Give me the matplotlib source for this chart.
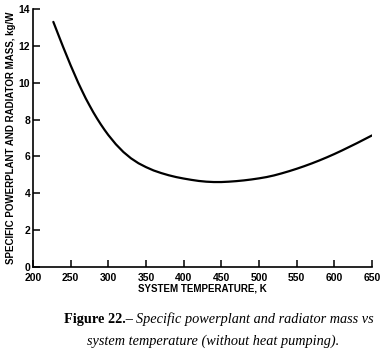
import matplotlib
matplotlib.use("Agg")
import matplotlib.pyplot as plt

temps = [227, 235, 240, 245, 250, 255, 260, 265, 270, 275, 280, 285, 290, 295, 300,
         310, 320, 330, 340, 350, 360, 370, 380, 390, 400, 410, 420, 430, 440, 450,
         460, 470, 480, 490, 500, 510, 520, 530, 540, 550, 560, 570, 580, 590, 600,
         610, 620, 630, 640, 650]
mass = [13.3, 12.46, 11.94, 11.44, 10.94, 10.47, 10.0, 9.57, 9.15, 8.77, 8.4, 8.06, 7.74, 7.44, 7.16,
        6.66, 6.24, 5.9, 5.63, 5.42, 5.24, 5.1, 4.98, 4.88, 4.8, 4.73, 4.67, 4.63, 4.61, 4.61,
        4.63, 4.66, 4.7, 4.75, 4.81, 4.88, 4.97, 5.08, 5.2, 5.33, 5.47, 5.62, 5.78, 5.95, 6.13,
        6.32, 6.52, 6.72, 6.93, 7.14]
xticks = [200, 250, 300, 350, 400, 450, 500, 550, 600, 650]
yticks = [0, 2, 4, 6, 8, 10, 12, 14]

fig = plt.figure(figsize=(3.87, 3.53), dpi=100)
ax = fig.add_axes([33/387, 1-267/353, (372-33)/387, (267-9)/353])

ax.plot(temps, mass, color="black", lw=1.6, solid_capstyle="round", solid_joinstyle="round")
ax.set_xlim(200, 650)
ax.set_ylim(0, 14)
ax.set_xticks(xticks)
ax.set_yticks(yticks)
for s in ["top", "right"]:
    ax.spines[s].set_visible(False)
for s in ["left", "bottom"]:
    ax.spines[s].set_linewidth(1.2)
ax.tick_params(direction="in", length=5, width=1.1, labelsize=7.5)
ax.tick_params(axis="x", pad=4)
ax.tick_params(axis="y", pad=2)
for lab in ax.get_xticklabels() + ax.get_yticklabels():
    lab.set_fontweight("bold")
    lab.set_family("Liberation Sans")
ax.set_xlabel("SYSTEM TEMPERATURE, K", fontsize=7, fontweight="bold", family="Liberation Sans", labelpad=1)
ax.set_ylabel("SPECIFIC POWERPLANT AND RADIATOR MASS, kg/W", fontsize=7, fontweight="bold", family="Liberation Sans", labelpad=2)

# caption
fig.canvas.draw()
r = fig.canvas.get_renderer()
fs = 10.3
t1 = fig.text(0, 1-323/353, "Figure 22.\u2013 ", fontsize=fs, fontweight="bold", family="Liberation Serif", va="baseline")
t2 = fig.text(0, 1-323/353, "Specific powerplant and radiator mass vs", fontsize=fs, style="italic", family="Liberation Serif", va="baseline")
w1 = t1.get_window_extent(r).width
w2 = t2.get_window_extent(r).width
x0 = 219 - (w1 + w2) / 2
t1.set_x(x0 / 387)
t2.set_x((x0 + w1) / 387)
fig.text(213/387, 1-345/353, "system temperature (without heat pumping).", fontsize=fs, style="italic", family="Liberation Serif", va="baseline", ha="center")

fig.savefig("out.png", dpi=100)
